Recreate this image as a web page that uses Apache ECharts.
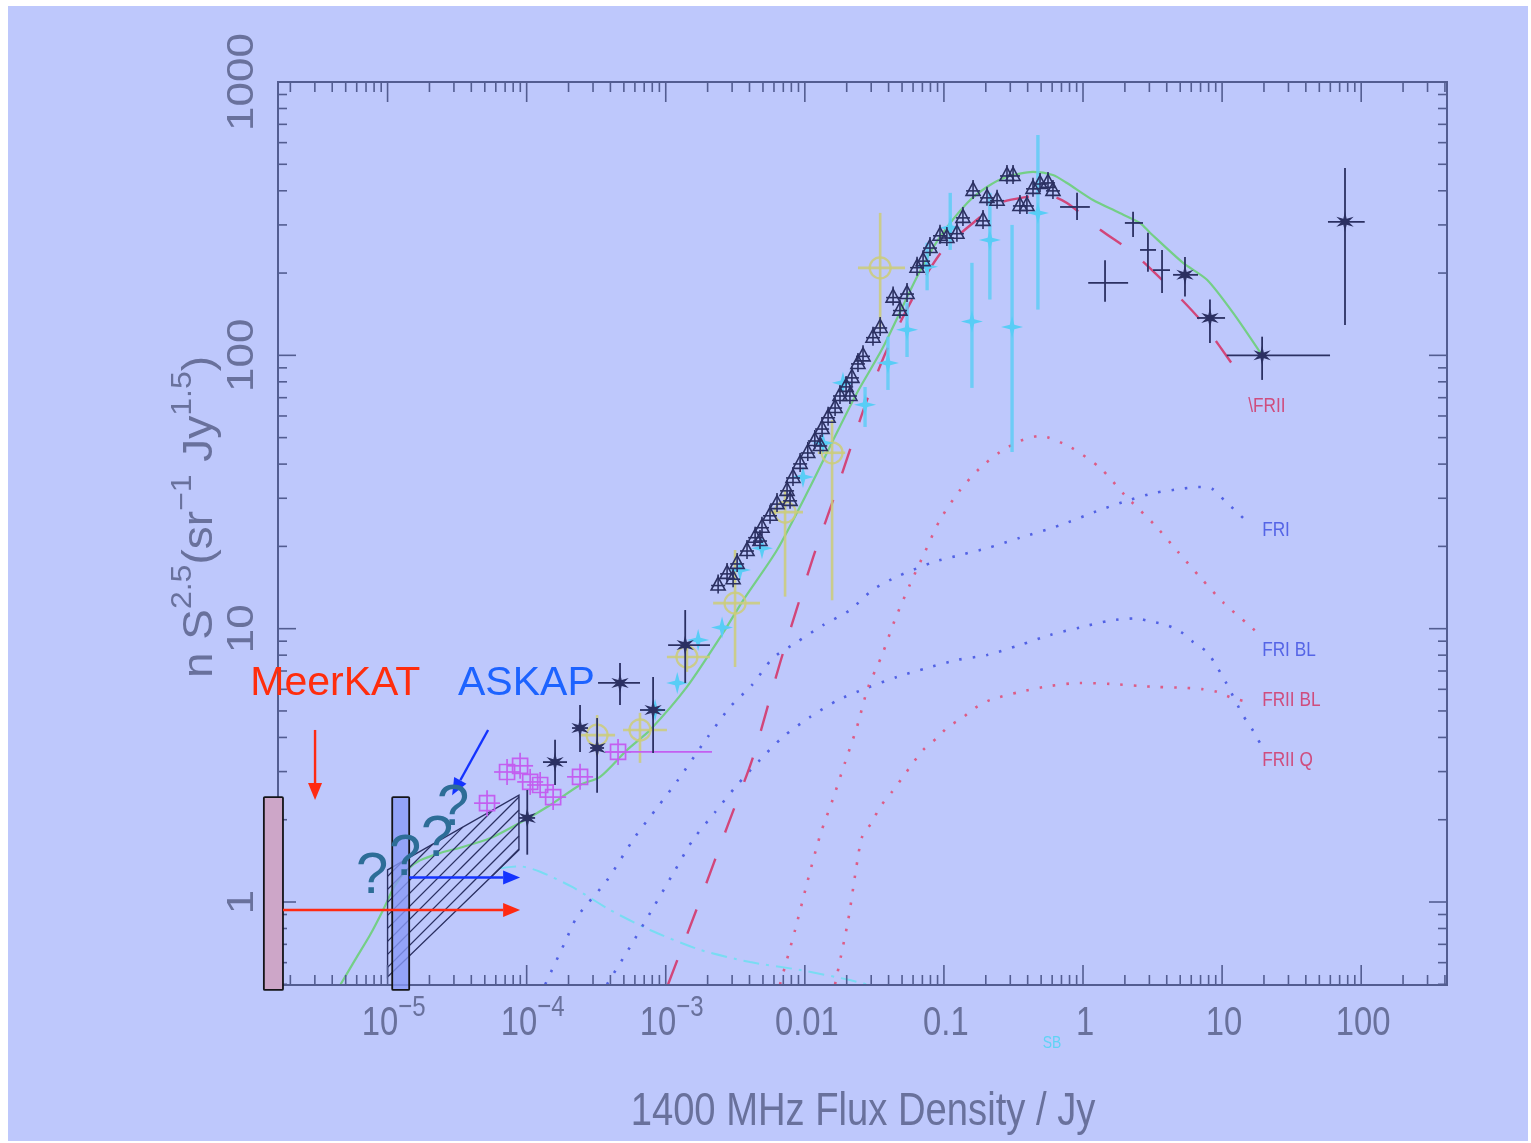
<!DOCTYPE html>
<html>
<head>
<meta charset="utf-8">
<title>1.4 GHz radio source counts</title>
<script src="https://cdn.jsdelivr.net/npm/echarts@6.0.0/dist/echarts.min.js"></script>
<style>
  html, body { margin: 0; padding: 0; background: #ffffff; }
  #chart { width: 1531px; height: 1143px; }
</style>
</head>
<body>
<div id="chart"></div>
<script>
// ---------------- axis ranges and ticks ----------------
const X_MIN = 1.63e-6, X_MAX = 414;      // 1400 MHz flux density, Jy
const Y_MIN = 0.497, Y_MAX = 1000;       // n S^2.5 (sr^-1 Jy^1.5)

const xMajorTicks = [1e-5, 1e-4, 1e-3, 0.01, 0.1, 1, 10, 100];
const xTickLabels = [['10', '−5'], ['10', '−4'], ['10', '−3'], ['0.01'], ['0.1'], ['1'], ['10'], ['100']];
const yMajorTicks = [1, 10, 100, 1000];
const yTickLabels = ['1', '10', '100', '1000'];
const xDecades = [1e-6, 1e-5, 1e-4, 1e-3, 0.01, 0.1, 1, 10, 100];
const yDecades = [0.1, 1, 10, 100];
const minorSteps = [2, 3, 4, 5, 6, 7, 8, 9];

// ---------------- model curves [S (Jy), n S^2.5] ----------------
const modelTotal = [
  [4.6e-6, 0.5], [5.84e-6, 0.614], [7.48e-6, 0.757], [9.29e-6, 0.935], [1.13e-5, 1.15],
  [1.38e-5, 1.31], [1.71e-5, 1.42], [2.38e-5, 1.51], [3.32e-5, 1.58], [5.45e-5, 1.71],
  [8.97e-5, 1.95], [1.47e-4, 2.26], [2.42e-4, 2.68], [3.37e-4, 2.87], [5.27e-4, 3.60],
  [7.71e-4, 4.26], [1.42e-3, 6.12], [2.58e-3, 9.64], [3.60e-3, 12.7], [6.31e-3, 19.4],
  [1.09e-2, 33.0], [1.60e-2, 49.0], [2.37e-2, 72.8], [3.65e-2, 107], [6.41e-2, 194],
  [9.37e-2, 271], [0.147, 361], [0.204, 413], [0.284, 450], [0.437, 469], [0.608, 457],
  [0.767, 427], [1.18, 370], [1.76, 335], [2.57, 305], [3.03, 281], [5.24, 218],
  [7.79, 189], [12.0, 143], [19.4, 100]
];
const modelFRII = [
  [1.04e-3, 0.5], [1.77e-3, 1.02], [2.76e-3, 1.88], [4.24e-3, 3.39], [6.63e-3, 7.49],
  [1.15e-2, 18.3], [1.60e-2, 29.6], [2.11e-2, 45.1], [2.80e-2, 68.7], [3.90e-2, 105],
  [6.41e-2, 173], [9.86e-2, 243], [0.162, 305], [0.253, 361], [0.396, 380], [0.551, 386],
  [0.767, 361], [1.33, 288], [2.29, 237], [4.02, 181], [6.94, 135], [13.4, 84.8]
];
const modelFRI = [
  [1.36e-4, 0.5], [1.89e-4, 0.714], [2.30e-4, 0.881], [3.78e-4, 1.20], [6.01e-4, 1.73],
  [8.65e-4, 2.21], [1.22e-3, 2.79], [2.01e-3, 4.02], [2.90e-3, 5.17], [4.17e-3, 6.22],
  [5.90e-3, 7.81], [8.79e-3, 8.94], [1.35e-2, 10.3], [2.11e-2, 11.7], [3.09e-2, 13.9],
  [4.60e-2, 15.5], [8.35e-2, 17.5], [0.131, 18.6], [0.204, 19.7], [0.352, 21.5],
  [0.684, 23.9], [1.33, 27.2], [2.18, 29.6], [3.29, 31.4], [5.15, 32.5], [6.71, 33.0],
  [8.46, 32.5], [10.5, 29.3], [12.8, 26.7], [15.6, 24.2]
];
const modelFRIBL = [
  [3.78e-4, 0.5], [5.53e-4, 0.684], [8.11e-4, 0.951], [1.17e-3, 1.31], [1.57e-3, 1.69],
  [2.26e-3, 2.13], [3.26e-3, 2.68], [4.76e-3, 3.31], [6.97e-3, 4.02], [1.09e-2, 4.75],
  [1.73e-2, 5.48], [2.80e-2, 6.07], [4.60e-2, 6.66], [7.57e-2, 7.18], [0.124, 7.68],
  [0.204, 8.01], [0.352, 8.71], [0.579, 9.48], [0.951, 10.1], [1.56, 10.7], [2.37, 10.9],
  [3.13, 10.6], [4.02, 10.3], [5.07, 9.72], [6.18, 8.94], [7.79, 8.22], [9.19, 7.24],
  [10.7, 6.33], [14.1, 4.83], [16.7, 4.23], [19.4, 3.69]
];
const modelFRIIQ = [
  [6.63e-3, 0.5], [8.51e-3, 0.790], [1.05e-2, 1.20], [1.29e-2, 1.76], [1.60e-2, 2.40],
  [1.95e-2, 3.25], [2.37e-2, 4.37], [2.84e-2, 6.07], [3.59e-2, 8.01], [4.45e-2, 10.8],
  [5.70e-2, 14.5], [7.31e-2, 19.1], [9.37e-2, 25.0], [0.131, 32.2], [0.182, 38.7],
  [0.253, 44.3], [0.352, 48.6], [0.491, 50.7], [0.807, 46.2], [1.33, 38.7], [2.00, 30.8],
  [3.29, 23.9], [4.82, 19.1], [7.05, 15.3], [10.3, 12.4], [15.6, 10.3], [19.4, 9.33]
];
const modelFRIIBL = [
  [1.65e-2, 0.5], [2.05e-2, 0.859], [2.33e-2, 1.31], [2.58e-2, 1.73], [3.04e-2, 1.96],
  [3.48e-2, 2.23], [4.24e-2, 2.53], [5.00e-2, 2.84], [6.00e-2, 3.23], [7.08e-2, 3.60],
  [8.91e-2, 3.98], [0.107, 4.37], [0.135, 4.71], [0.167, 5.13], [0.214, 5.48],
  [0.352, 5.87], [0.579, 6.17], [0.951, 6.33], [1.56, 6.28], [2.57, 6.17], [3.40, 6.12],
  [5.60, 6.07], [7.16, 6.01], [9.19, 5.87], [11.8, 5.58], [15.1, 5.40]
];
const modelSB = [
  [6.44e-5, 1.33], [8.97e-5, 1.35], [1.25e-4, 1.29], [2.16e-4, 1.13], [3.98e-4, 0.935],
  [7.71e-4, 0.790], [1.77e-3, 0.668], [4.04e-3, 0.603], [9.24e-3, 0.564], [2.11e-2, 0.518],
  [3.47e-2, 0.485]
];

// ---------------- measured counts ----------------
// [S, nS^2.5, S low, S high, y low, y high]  (null where no error bar is drawn)
const surveyTriangles = [
  [2.38e-3, 14.5], [2.76e-3, 16.0], [3.05e-3, 15.3], [3.26e-3, 17.4], [3.84e-3, 19.4],
  [4.39e-3, 21.7], [4.76e-3, 21.1], [4.92e-3, 23.6], [5.62e-3, 26.1], [6.31e-3, 28.8],
  [7.45e-3, 32.2], [7.83e-3, 29.6], [8.22e-3, 35.9], [9.25e-3, 40.4], [1.05e-2, 44.3],
  [1.18e-2, 49.0], [1.29e-2, 47.0], [1.33e-2, 54.2], [1.47e-2, 59.6], [1.65e-2, 64.7],
  [1.79e-2, 71.6], [1.98e-2, 77.3], [2.11e-2, 71.6], [2.18e-2, 83.4], [2.41e-2, 93.8],
  [2.62e-2, 100], [3.09e-2, 117], [3.48e-2, 127], [4.31e-2, 164], [4.83e-2, 147],
  [5.43e-2, 169], [6.41e-2, 211], [7.08e-2, 223], [7.94e-2, 249], [9.37e-2, 276],
  [0.105, 271], [0.124, 281], [0.137, 321], [0.162, 403], [0.191, 313], [0.204, 380],
  [0.241, 371], [0.284, 457], [0.314, 457], [0.352, 355], [0.395, 355], [0.437, 410],
  [0.491, 427], [0.560, 431], [0.608, 403]
];
const starCounts = [
  [1.01e-4, 2.03, 8.81e-5, 1.15e-4, 1.49, 2.57],
  [1.60e-4, 3.25, 1.31e-4, 1.95e-4, 2.68, 3.92],
  [2.42e-4, 4.33, 2.12e-4, 2.76e-4, 3.54, 5.26],
  [3.21e-4, 3.66, 2.86e-4, 3.60e-4, 2.51, 4.71],
  [4.69e-4, 6.33, 3.26e-4, 6.53e-4, 5.26, 7.49],
  [8.11e-4, 5.04, 6.53e-4, 9.89e-4, 3.51, 6.66],
  [1.38e-3, 8.71, 1.04e-3, 2.08e-3, 6.33, 11.7],
  [5.41, 197, 4.44, 6.71, 164, 229],
  [8.18, 137, 6.60, 10.5, 111, 160],
  [19.4, 100, 10.8, 59.7, 81.3, 117],
  [76.5, 308, 57.7, 106, 129, 485]
];
const crossCounts = [
  [0.906, 349, 0.684, 1.12, 313, 393],
  [1.44, 184, 1.09, 2.11, 157, 223],
  [2.29, 305, 2.00, 2.70, 271, 335],
  [2.93, 243, 2.57, 3.35, 202, 281],
  [3.70, 205, 3.19, 4.22, 169, 243]
];
const cyanCounts = [
  [8.38e-4, 5.04], [1.21e-3, 6.33], [1.71e-3, 9.09], [2.54e-3, 10.1], [3.42e-3, 16.4],
  [4.92e-3, 19.7], [9.70e-3, 35.9], [1.35e-2, 47.8], [1.88e-2, 79.3],
  [2.71e-2, 65.9, null, null, 54.7, 76.6],
  [3.96e-2, 93.8, null, null, 74.7, 117],
  [5.43e-2, 124, null, null, 98.6, 156],
  [7.57e-2, 211, null, null, 173, 258],
  [0.111, 293, null, null, 243, 393],
  [0.159, 133, null, null, 76.0, 218],
  [0.214, 264, null, null, 160, 393],
  [0.309, 127, null, null, 44.3, 300],
  [0.474, 332, null, null, 147, 640]
];
const oliveCounts = [
  [3.48e-2, 209, 2.41e-2, 5.25e-2, 124, 332],
  [1.57e-2, 44.0, 1.24e-2, 1.95e-2, 12.7, 58.0],
  [7.21e-3, 26.7, 5.62e-3, 9.70e-3, 13.1, 32.2],
  [3.15e-3, 12.4, 2.19e-3, 4.76e-3, 7.24, 19.4],
  [1.42e-3, 7.88, 1.02e-3, 2.08e-3, 6.95, 8.94],
  [6.53e-4, 4.26, 4.93e-4, 1.02e-3, 3.23, 4.92],
  [3.21e-4, 4.08, 2.42e-4, 4.32e-4, 3.45, 4.83]
];
const magentaCounts = [
  [5.19e-5, 2.30], [7.23e-5, 2.99], [8.97e-5, 3.15], [1.06e-4, 2.75], [1.25e-4, 2.68],
  [1.55e-4, 2.42], [2.42e-4, 2.87], [4.54e-4, 3.54, 3.66e-4, 2.15e-3, null, null]
];
// extrapolated counts region (hatched)
const hatchRegion = [[1.0e-5, 1.31], [8.8e-5, 2.46], [8.8e-5, 1.55], [1.0e-5, 0.532]];

// ---------------- curve names ----------------
const curveLabels = [
  { text: '\\FRII', S: 15.4, y: 65.3, kind: 'red' },
  { text: 'FRI', S: 19.4, y: 23.0, kind: 'blue' },
  { text: 'FRI BL', S: 19.4, y: 8.36, kind: 'blue' },
  { text: 'FRII BL', S: 19.4, y: 5.48, kind: 'red' },
  { text: 'FRII Q', S: 19.4, y: 3.31, kind: 'red' },
  { text: 'SB', S: 0.598, y: 0.305, kind: 'cyan', center: true }
];

// ---------------- survey limits ----------------
const meerkatBar = [[1.29e-6, 0.477], [1.77e-6, 2.42]];
const askapBar = [[1.08e-5, 0.477], [1.43e-5, 2.42]];
const meerkatLimit = [[1.77e-6, 0.935], [8.97e-5, 0.935]];
const askapLimit = [[1.43e-5, 1.23], [8.97e-5, 1.23]];
const meerkatPointer = [[3.01e-6, 4.26], [3.01e-6, 2.36]];
const askapPointer = [[5.28e-5, 4.26], [2.91e-5, 2.46]];
const meerkatLabel = [1.03e-6, 6.28];
const askapLabel = [3.21e-5, 6.28];
const questionMarks = [[7.74e-6, 1.23], [1.34e-5, 1.44], [2.27e-5, 1.69], [2.96e-5, 2.19]];

// ---------------- styling ----------------
const FONT = "'Liberation Sans', Arial, Helvetica, sans-serif";
const PANEL = '#bec8fc';
const INK = '#2b3062';
const AXIS_COLOR = '#535d91';
const LABEL_COLOR = '#69719c';
const LABEL_COLORS = { red: '#cf4d7e', blue: '#5565e6', cyan: '#5fd3f5' };

const measurer = document.createElement('canvas').getContext('2d');
function runWidth(text, size) {
  measurer.font = size + 'px ' + FONT;
  return measurer.measureText(text).width;
}
function textEl(x, y, text, size, color, align) {
  return {
    type: 'text', x: x, y: y,
    style: {
      text: text, font: size + 'px ' + FONT, fill: color,
      textAlign: align || 'left', align: align || 'left',
      textVerticalAlign: 'middle', verticalAlign: 'middle'
    }
  };
}
// text runs with superscripts, centred on the local origin
function superscriptRuns(parts, baseSize, supSize, rise, color) {
  const widths = parts.map(([t, sup]) => runWidth(t, sup ? supSize : baseSize));
  const total = widths.reduce((a, b) => a + b, 0);
  let x = -total / 2;
  return parts.map(([t, sup], i) => {
    const el = textEl(x, sup ? -rise : 0, t, sup ? supSize : baseSize, color, 'left');
    x += widths[i];
    return el;
  });
}
function seg(x1, y1, x2, y2, style) {
  return { type: 'line', shape: { x1, y1, x2, y2 }, style: Object.assign({}, style) };
}
function starPoints(x, y, n, rOut, rIn, rot) {
  const pts = [];
  for (let i = 0; i < 2 * n; i++) {
    const r = i % 2 ? rIn : rOut;
    const a = rot + i * Math.PI / n;
    pts.push([x + r * Math.sin(a), y - r * Math.cos(a)]);
  }
  return pts;
}

// ---------------- markers ----------------
const inkStroke = { stroke: INK, lineWidth: 1.6 };
function triangleMarker(x, y) {
  return [
    { type: 'polygon', shape: { points: [[x, y - 7.5], [x + 7, y + 5.5], [x - 7, y + 5.5]] }, style: { fill: 'none', stroke: INK, lineWidth: 1.6 } },
    seg(x, y - 10, x, y + 9, inkStroke),
    seg(x - 7, y + 1, x + 7, y + 1, inkStroke)
  ];
}
function starMarker(x, y) {
  return [{ type: 'polygon', shape: { points: starPoints(x, y, 6, 10, 3.4, 0) }, style: { fill: INK } }];
}
function cyanMarker(x, y) {
  return [{ type: 'polygon', shape: { points: starPoints(x, y, 4, 11, 3.2, 0) }, style: { fill: '#58cdf6' } }];
}
function magentaMarker(x, y) {
  const st = { stroke: '#c35ff0', lineWidth: 1.7 };
  return [
    { type: 'rect', shape: { x: x - 7.5, y: y - 7.5, width: 15, height: 15 }, style: { fill: 'none', stroke: '#c35ff0', lineWidth: 1.7 } },
    seg(x - 13, y, x + 13, y, st),
    seg(x, y - 13, x, y + 13, st)
  ];
}
function oliveMarker(x, y) {
  return [{ type: 'circle', shape: { cx: x, cy: y, r: 10.5 }, style: { fill: 'none', stroke: 'rgba(205,205,120,0.85)', lineWidth: 2.2 } }];
}

function pointSeries(points, marker, barStyle, z) {
  return {
    type: 'custom', z: z, silent: true, clip: false,
    data: points.map(p => [p[0], p[1]]),
    renderItem: function (params, api) {
      const p = points[params.dataIndex];
      const c = api.coord([p[0], p[1]]);
      const ch = [];
      if (p[2] != null) {
        const xa = api.coord([p[2], p[1]])[0], xb = api.coord([p[3], p[1]])[0];
        ch.push(seg(xa, c[1], xb, c[1], barStyle));
      }
      if (p[4] != null) {
        const ya = api.coord([p[0], p[4]])[1], yb = api.coord([p[0], p[5]])[1];
        ch.push(seg(c[0], ya, c[0], yb, barStyle));
      }
      if (marker) ch.push.apply(ch, marker(c[0], c[1]));
      return { type: 'group', children: ch };
    }
  };
}

function modelLine(data, color, width, dash, z) {
  return {
    type: 'line', data: data, showSymbol: false, symbol: 'none', smooth: 0.25,
    clip: true, silent: true, z: z,
    lineStyle: { color: color, width: width, type: dash }
  };
}

// ---------------- frame, ticks and tick labels ----------------
function renderFrame(params, api) {
  const ch = [];
  const bl = api.coord([X_MIN, Y_MIN]);
  const tr = api.coord([X_MAX, Y_MAX]);
  const xl = bl[0], yb = bl[1], xr = tr[0], yt = tr[1];
  const st = { stroke: AXIS_COLOR, lineWidth: 1.6 };
  const MAJOR = 20, MINOR = 10;
  xDecades.forEach(d => minorSteps.forEach(m => {
    const v = d * m;
    if (v > X_MIN && v < X_MAX) {
      const x = api.coord([v, Y_MIN])[0];
      ch.push(seg(x, yb, x, yb - MINOR, st), seg(x, yt, x, yt + MINOR, st));
    }
  }));
  xMajorTicks.forEach((v, i) => {
    const x = api.coord([v, Y_MIN])[0];
    ch.push(seg(x, yb, x, yb - MAJOR, st), seg(x, yt, x, yt + MAJOR, st));
    const parts = xTickLabels[i].map((t, k) => [t, k === 1]);
    ch.push({
      type: 'group', x: x + (parts.length > 1 ? 6 : 2), y: yb + 39, scaleX: 0.8,
      children: superscriptRuns(parts, 41, 30, 16, LABEL_COLOR)
    });
  });
  yDecades.forEach(d => minorSteps.forEach(m => {
    const v = d * m;
    if (v > Y_MIN && v < Y_MAX) {
      const y = api.coord([X_MIN, v])[1];
      ch.push(seg(xl, y, xl + MINOR - 1, y, st), seg(xr, y, xr - MINOR + 1, y, st));
    }
  }));
  yMajorTicks.forEach((v, i) => {
    const y = api.coord([X_MIN, v])[1];
    ch.push(seg(xl, y, xl + MAJOR - 2, y, st), seg(xr, y, xr - MAJOR + 2, y, st));
    ch.push({
      type: 'group', x: xl - 35, y: y, rotation: Math.PI / 2, scaleY: 0.85,
      children: [textEl(0, 0, yTickLabels[i], 44, LABEL_COLOR, 'center')]
    });
  });
  ch.push({ type: 'rect', shape: { x: xl, y: yt, width: xr - xl, height: yb - yt }, style: { fill: 'none', stroke: AXIS_COLOR, lineWidth: 2 } });
  return { type: 'group', children: ch };
}

// ---------------- hatched extrapolation region ----------------
function renderHatch(params, api) {
  const pts = hatchRegion.map(p => api.coord(p));
  const ch = [{ type: 'polygon', shape: { points: pts }, style: { fill: 'none', stroke: INK, lineWidth: 1.4 } }];
  const sums = pts.map(p => p[0] + p[1]);
  const lo = Math.min.apply(null, sums), hi = Math.max.apply(null, sums);
  const STEP = 13;
  for (let c = hi - 1; c > lo + 2; c -= STEP) {
    const hits = [];
    for (let i = 0; i < pts.length; i++) {
      const a = pts[i], b = pts[(i + 1) % pts.length];
      const sa = a[0] + a[1] - c, sb = b[0] + b[1] - c;
      if ((sa <= 0 && sb > 0) || (sa > 0 && sb <= 0)) {
        const t = sa / (sa - sb);
        hits.push([a[0] + t * (b[0] - a[0]), a[1] + t * (b[1] - a[1])]);
      }
    }
    if (hits.length >= 2) {
      hits.sort((p, q) => p[0] - q[0]);
      ch.push(seg(hits[0][0], hits[0][1], hits[hits.length - 1][0], hits[hits.length - 1][1], { stroke: INK, lineWidth: 1.3 }));
    }
  }
  return { type: 'group', children: ch };
}

// ---------------- curve names ----------------
function renderCurveLabels(params, api) {
  return {
    type: 'group',
    children: curveLabels.map(l => {
      const c = api.coord([l.S, l.y]);
      return {
        type: 'group', x: c[0], y: c[1], scaleX: 0.82,
        children: [textEl(0, 0, l.text, l.kind === 'cyan' ? 17 : 21, LABEL_COLORS[l.kind], l.center ? 'center' : 'left')]
      };
    })
  };
}

// ---------------- survey limit annotations ----------------
function renderSurveys(params, api) {
  const ch = [];
  const bar = (corners, fill) => {
    const a = api.coord(corners[0]), b = api.coord(corners[1]);
    ch.push({
      type: 'rect',
      shape: { x: Math.min(a[0], b[0]), y: Math.min(a[1], b[1]), width: Math.abs(b[0] - a[0]), height: Math.abs(b[1] - a[1]), r: 1 },
      style: { fill: fill, stroke: '#141418', lineWidth: 1.8 }
    });
  };
  const arrow = (line, color, w) => {
    const a = api.coord(line[0]), b = api.coord(line[1]);
    const dx = b[0] - a[0], dy = b[1] - a[1], L = Math.hypot(dx, dy);
    const ux = dx / L, uy = dy / L, head = 17, half = 7;
    const hx = b[0] - ux * head, hy = b[1] - uy * head;
    ch.push(seg(a[0], a[1], hx, hy, { stroke: color, lineWidth: w }));
    ch.push({ type: 'polygon', shape: { points: [[b[0], b[1]], [hx - uy * half, hy + ux * half], [hx + uy * half, hy - ux * half]] }, style: { fill: color } });
  };
  bar(meerkatBar, '#cda6c8');
  bar(askapBar, 'rgba(135,152,246,0.78)');
  arrow(meerkatLimit, '#ff2a12', 2.6);
  arrow(askapLimit, '#1433ff', 2.6);
  arrow(meerkatPointer, '#ff2a12', 2.4);
  arrow(askapPointer, '#1433ff', 2.4);
  const m = api.coord(meerkatLabel), k = api.coord(askapLabel);
  ch.push(textEl(m[0], m[1], 'MeerKAT', 41, '#ff2d0d', 'left'));
  ch.push(textEl(k[0], k[1], 'ASKAP', 41, '#1d63ff', 'left'));
  questionMarks.forEach(q => {
    const c = api.coord(q);
    ch.push(textEl(c[0], c[1], '?', 58, '#2d6d97', 'center'));
  });
  return { type: 'group', children: ch };
}

// ---------------- chart ----------------
const chart = echarts.init(document.getElementById('chart'), null, { renderer: 'canvas' });
const blackBar = { stroke: INK, lineWidth: 1.8 };
chart.setOption({
  animation: false,
  backgroundColor: '#ffffff',
  grid: { left: 278, right: 84, top: 82, bottom: 158, show: false },
  xAxis: {
    type: 'log', logBase: 10, min: X_MIN, max: X_MAX,
    axisLine: { show: false }, axisTick: { show: false }, axisLabel: { show: false }, splitLine: { show: false }
  },
  yAxis: {
    type: 'log', logBase: 10, min: Y_MIN, max: Y_MAX,
    axisLine: { show: false }, axisTick: { show: false }, axisLabel: { show: false }, splitLine: { show: false }
  },
  graphic: [
    { type: 'rect', x: 8, y: 6, shape: { width: 1520, height: 1135 }, style: { fill: PANEL }, z: -100, silent: true },
    {
      type: 'group', x: 863, y: 1112, scaleX: 0.83, silent: true,
      children: [textEl(0, 0, '1400 MHz Flux Density / Jy', 46, LABEL_COLOR, 'center')]
    },
    {
      type: 'group', x: 200, y: 517, rotation: Math.PI / 2, scaleY: 0.92, silent: true,
      children: superscriptRuns([['n S', false], ['2.5', true], ['(sr', false], ['−1', true], [' Jy', false], ['1.5', true], [')', false]], 46, 32, 19, LABEL_COLOR)
    }
  ],
  series: [
    modelLine(modelSB, '#79dcf2', 2, [16, 7, 3, 7], 2),
    modelLine(modelFRI, '#5262e4', 2.6, [2.5, 11], 2),
    modelLine(modelFRIBL, '#5262e4', 2.6, [2.5, 11], 2),
    modelLine(modelFRIIQ, '#dd5c86', 2.6, [2.5, 11], 2),
    modelLine(modelFRIIBL, '#dd5c86', 2.6, [2.5, 11], 2),
    modelLine(modelFRII, '#d2467a', 2.4, [26, 28], 3),
    modelLine(modelTotal, '#74cf86', 2.2, 'solid', 3),
    { type: 'custom', z: 4, silent: true, clip: false, data: [[1e-4, 1]], renderItem: renderHatch },
    pointSeries(oliveCounts, oliveMarker, { stroke: 'rgba(205,205,120,0.85)', lineWidth: 2.6 }, 4),
    pointSeries(magentaCounts, magentaMarker, { stroke: '#c35ff0', lineWidth: 1.8 }, 5),
    pointSeries(cyanCounts, cyanMarker, { stroke: 'rgba(95,205,245,0.85)', lineWidth: 3.4 }, 5),
    pointSeries(surveyTriangles, triangleMarker, blackBar, 6),
    pointSeries(starCounts, starMarker, blackBar, 7),
    pointSeries(crossCounts, null, blackBar, 7),
    { type: 'custom', z: 8, silent: true, clip: false, data: [[1, 1]], renderItem: renderCurveLabels },
    { type: 'custom', z: 9, silent: true, clip: false, data: [[1, 1]], renderItem: renderFrame },
    { type: 'custom', z: 20, silent: true, clip: false, data: [[1e-5, 1]], renderItem: renderSurveys }
  ]
});
</script>
</body>
</html>
